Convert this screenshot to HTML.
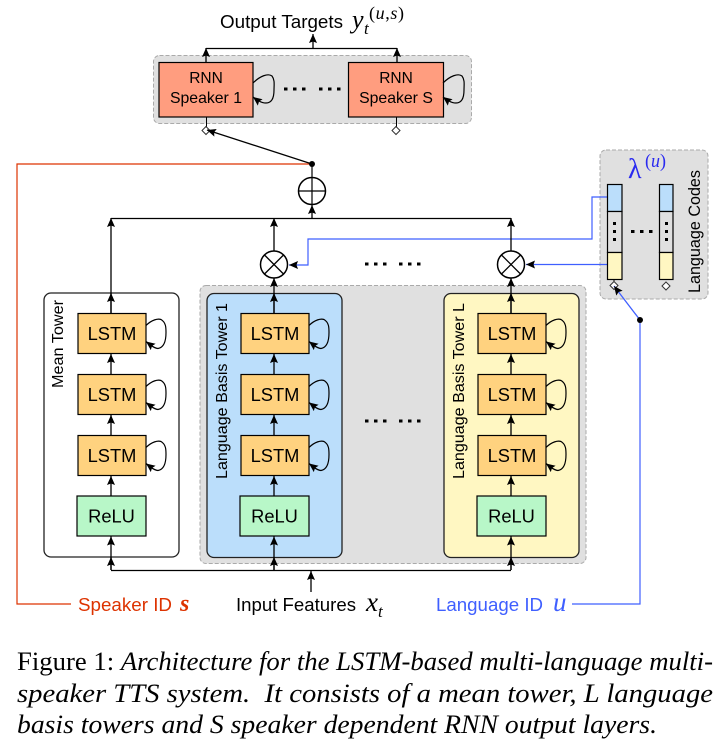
<!DOCTYPE html>
<html><head><meta charset="utf-8"><style>
html,body{margin:0;padding:0;background:#fff}
svg{display:block}
text{font-family:"Liberation Sans",sans-serif;fill:#000}
.s{font-family:"Liberation Serif",serif}
.i{font-family:"Liberation Serif",serif;font-style:italic}
.c{font-family:"Liberation Serif",serif;font-size:26px;white-space:pre}
</style></head><body>
<svg width="727" height="753" viewBox="0 0 727 753" xmlns="http://www.w3.org/2000/svg">
<defs>
<marker id="a" markerUnits="userSpaceOnUse" markerWidth="12" markerHeight="12" refX="9" refY="6" orient="auto"><path d="M0 2 L9 6 L0 10 L1.500 6Z" fill="#000"/></marker>
<g id="lstm"><rect x="0" y="0" width="68" height="40" fill="#ffd27f" stroke="#000" stroke-width="1.200"/>
<path d="M68 12 C74 6,80 5,83 6 C88 9,88 14,88 19 C88 28,86 34,80 35 C76 35,72 31,68 28" fill="none" stroke="#000" stroke-width="1.200" marker-end="url(#a)"/>
<text x="34" y="26.500" font-size="18.300" text-anchor="middle">LSTM</text></g>
<g id="relu"><rect x="0" y="0" width="69" height="40" fill="#b8f7c8" stroke="#000" stroke-width="1.200"/>
<text x="34.500" y="26.500" font-size="18.300" text-anchor="middle">ReLU</text></g>
<g id="stack">
<use href="#relu" x="-34" y="496"/>
<use href="#lstm" x="-33" y="435.500"/><use href="#lstm" x="-33" y="374.500"/><use href="#lstm" x="-33" y="313.500"/>
<g stroke="#000" stroke-width="1.300">
<line x1="0" y1="496" x2="0" y2="476" marker-end="url(#a)"/>
<line x1="0" y1="435" x2="0" y2="415" marker-end="url(#a)"/>
<line x1="0" y1="374" x2="0" y2="354" marker-end="url(#a)"/>
<line x1="0" y1="570" x2="0" y2="536.500" marker-end="url(#a)"/>
<line x1="0" y1="570" x2="0" y2="557" marker-end="url(#a)"/>
</g></g>
<g id="dots"><rect x="0" y="-1.500" width="3.500" height="3" fill="#000"/><rect x="9" y="-1.500" width="3.500" height="3" fill="#000"/><rect x="18" y="-1.500" width="3.500" height="3" fill="#000"/></g>
<g id="times"><circle r="13.500" fill="#fff" stroke="#000" stroke-width="1.500"/><path d="M-9.500 -9.500 L9.500 9.500 M9.500 -9.500 L-9.500 9.500" stroke="#000" stroke-width="1.300"/></g>
</defs>

<!-- panels -->
<rect x="153.500" y="55.500" width="318" height="68" rx="6" fill="#e0e0e0" stroke="#aaa" stroke-dasharray="4 2"/>
<rect x="600" y="150" width="108" height="149" rx="6" fill="#e0e0e0" stroke="#aaa" stroke-dasharray="4 2"/>
<rect x="200" y="285.500" width="386" height="278" rx="6" fill="#e0e0e0" stroke="#aaa" stroke-dasharray="4 2"/>
<rect x="44" y="293" width="135" height="264" rx="7" fill="#fff" stroke="#222" stroke-width="1.300"/>
<rect x="207" y="293.500" width="135" height="264" rx="7" fill="#bbdefb" stroke="#222" stroke-width="1.300"/>
<rect x="444" y="293.500" width="135" height="264" rx="7" fill="#fff7c2" stroke="#222" stroke-width="1.300"/>

<!-- coloured wires -->
<path d="M312 164 H17 V604 H71" fill="none" stroke="#dd3300" stroke-width="1.200"/>
<path d="M572 604 H640 V320" fill="none" stroke="#3f5fff" stroke-width="1.200"/>
<path d="M607 197 H592 V239 H308 V265 H289" fill="none" stroke="#3f5fff" stroke-width="1.200" marker-end="url(#a)"/>
<path d="M607 264.500 H526" fill="none" stroke="#3f5fff" stroke-width="1.200" marker-end="url(#a)"/>

<!-- top part -->
<rect x="159" y="62.500" width="94" height="54.500" fill="#ff9d7f" stroke="#000" stroke-width="1.200"/>
<rect x="348.500" y="62.500" width="95" height="54.500" fill="#ff9d7f" stroke="#000" stroke-width="1.200"/>
<text x="206" y="83" font-size="15.500" text-anchor="middle">RNN</text>
<text x="206" y="103" font-size="15.800" text-anchor="middle">Speaker 1</text>
<text x="396" y="83" font-size="15.500" text-anchor="middle">RNN</text>
<text x="396" y="103" font-size="15.800" text-anchor="middle">Speaker S</text>
<path d="M253 83 C260 76,268 73,272 76 C275 80,274 85,274 90 C274 98,272 103,266 103 C261 103,257 100,253 97" fill="none" stroke="#000" stroke-width="1.200" marker-end="url(#a)"/>
<path d="M443 83 C450 76,458 73,462 76 C465 80,464 85,464 90 C464 98,462 103,456 103 C451 103,447 100,443 97" fill="none" stroke="#000" stroke-width="1.200" marker-end="url(#a)"/>
<use href="#dots" x="284" y="89"/><use href="#dots" x="319" y="89"/>
<line x1="206" y1="62" x2="206" y2="48" stroke="#000" stroke-width="1.300" marker-end="url(#a)"/>
<line x1="397" y1="62" x2="397" y2="48" stroke="#000" stroke-width="1.300" marker-end="url(#a)"/>
<line x1="206" y1="48.500" x2="397" y2="48.500" stroke="#000" stroke-width="1.200"/>
<line x1="313" y1="48" x2="313" y2="34" stroke="#000" stroke-width="1.300" marker-end="url(#a)"/>
<path d="M206.500 117 V127 M396.500 117 V127" stroke="#000"/>
<path d="M206 126.500 L210 130.500 L206 134.500 L202 130.500Z M396 126.500 L400 130.500 L396 134.500 L392 130.500Z" fill="#fff" stroke="#333"/>
<line x1="312" y1="164" x2="207" y2="130" stroke="#000" stroke-width="1.300" marker-end="url(#a)"/>
<circle cx="312" cy="164" r="3" fill="#000"/>
<line x1="312" y1="164" x2="312" y2="177" stroke="#000" stroke-width="1.200"/>
<circle cx="312" cy="191" r="13.500" fill="#fff" stroke="#000" stroke-width="1.500"/>
<path d="M298.500 191 H325.500 M312 177.500 V204.500" stroke="#000" stroke-width="1.200"/>

<!-- bus -->
<line x1="111" y1="218.500" x2="511" y2="218.500" stroke="#000" stroke-width="1.200"/>
<line x1="312" y1="218" x2="312" y2="205" stroke="#000" stroke-width="1.300" marker-end="url(#a)"/>
<line x1="111" y1="313" x2="111" y2="218" stroke="#000" stroke-width="1.300" marker-end="url(#a)"/>
<line x1="274" y1="251" x2="274" y2="218" stroke="#000" stroke-width="1.300" marker-end="url(#a)"/>
<line x1="511" y1="251" x2="511" y2="218" stroke="#000" stroke-width="1.300" marker-end="url(#a)"/>
<line x1="111" y1="313" x2="111" y2="293" stroke="#000" stroke-width="1.300" marker-end="url(#a)"/>
<line x1="274" y1="313" x2="274" y2="278" stroke="#000" stroke-width="1.300" marker-end="url(#a)"/>
<line x1="511" y1="313" x2="511" y2="278" stroke="#000" stroke-width="1.300" marker-end="url(#a)"/>
<line x1="274" y1="313" x2="274" y2="293" stroke="#000" stroke-width="1.300" marker-end="url(#a)"/>
<line x1="511" y1="313" x2="511" y2="293" stroke="#000" stroke-width="1.300" marker-end="url(#a)"/>
<use href="#times" x="274" y="264.500"/><use href="#times" x="511" y="264.500"/>

<!-- towers -->
<use href="#stack" x="111"/><use href="#stack" x="274"/><use href="#stack" x="511"/>
<line x1="111" y1="570.500" x2="511" y2="570.500" stroke="#000" stroke-width="1.200"/>
<line x1="311" y1="592" x2="311" y2="571" stroke="#000" stroke-width="1.300" marker-end="url(#a)"/>
<use href="#dots" x="365" y="264"/><use href="#dots" x="399" y="264"/>
<use href="#dots" x="365" y="421"/><use href="#dots" x="399" y="421"/>

<text transform="translate(63,388) rotate(-90)" font-size="16" textLength="88" lengthAdjust="spacingAndGlyphs">Mean Tower</text>
<text transform="translate(227,479) rotate(-90)" font-size="16" textLength="176" lengthAdjust="spacingAndGlyphs">Language Basis Tower 1</text>
<text transform="translate(464,479) rotate(-90)" font-size="16" textLength="176" lengthAdjust="spacingAndGlyphs">Language Basis Tower L</text>
<text transform="translate(700,293) rotate(-90)" font-size="17" textLength="123" lengthAdjust="spacingAndGlyphs">Language Codes</text>

<!-- language vectors -->
<g stroke="#000" stroke-width="1.200">
<rect x="607.500" y="184.500" width="14.500" height="27" fill="#bbdefb"/>
<rect x="607.500" y="211.500" width="14.500" height="41" fill="#e0e0e0"/>
<rect x="607.500" y="252.500" width="14.500" height="27" fill="#fff7c2"/>
<rect x="659.500" y="184.500" width="13.500" height="27" fill="#bbdefb"/>
<rect x="659.500" y="211.500" width="13.500" height="41" fill="#e0e0e0"/>
<rect x="659.500" y="252.500" width="13.500" height="27" fill="#fff7c2"/>
</g>
<g fill="#000"><rect x="613" y="222" width="3" height="3"/><rect x="613" y="230" width="3" height="3"/><rect x="613" y="238" width="3" height="3"/>
<rect x="665" y="222" width="3" height="3"/><rect x="665" y="230" width="3" height="3"/><rect x="665" y="238" width="3" height="3"/>
<rect x="631" y="230" width="3.500" height="3"/><rect x="640" y="230" width="3.500" height="3"/><rect x="649" y="230" width="3.500" height="3"/></g>
<path d="M614 279.500 V282" stroke="#000"/>
<path d="M614 281.500 L618 285.500 L614 289.500 L610 285.500Z M666 282 L670 286 L666 290 L662 286Z" fill="#fff" stroke="#333"/>
<line x1="640" y1="320" x2="614" y2="286" stroke="#3f5fff" stroke-width="1.300" marker-end="url(#a)"/>
<circle cx="640" cy="320" r="3" fill="#000"/>
<text class="s" x="628" y="178" font-size="28" style="fill:#2a2af0">λ</text>
<text class="s" x="645" y="167" font-size="19" textLength="21" lengthAdjust="spacingAndGlyphs" style="fill:#2a2af0">(<tspan class="i">u</tspan>)</text>

<!-- labels -->
<text x="220" y="28" font-size="18.400" textLength="123" lengthAdjust="spacingAndGlyphs">Output Targets</text>
<text class="i" x="352" y="28" font-size="26">y</text>
<text class="i" x="364" y="34" font-size="17">t</text>
<text class="s" x="369" y="19" font-size="18" textLength="35" lengthAdjust="spacing">(<tspan class="i">u</tspan>,<tspan class="i">s</tspan>)</text>
<text x="78" y="611" font-size="18.500" textLength="94" lengthAdjust="spacingAndGlyphs" style="fill:#dd3300">Speaker ID</text>
<text class="i" x="180" y="611" font-size="24" style="fill:#dd3300;font-weight:bold">s</text>
<text x="236" y="611" font-size="18.500" textLength="120" lengthAdjust="spacingAndGlyphs">Input Features</text>
<text class="i" x="366" y="611" font-size="27">x</text>
<text class="i" x="378" y="617" font-size="17">t</text>
<text x="436" y="611" font-size="18.500" textLength="107" lengthAdjust="spacingAndGlyphs" style="fill:#3f5fff">Language ID</text>
<text class="i" x="553" y="611" font-size="27" style="fill:#3f5fff">u</text>

<!-- caption -->
<text class="c" x="17" y="670" textLength="696" lengthAdjust="spacingAndGlyphs">Figure 1: <tspan font-style="italic">Architecture for the LSTM-based multi-language multi-</tspan></text>
<text class="c" x="17" y="702" textLength="696" lengthAdjust="spacingAndGlyphs" font-style="italic">speaker TTS system.  It consists of a mean tower, L language</text>
<text class="c" x="17" y="733" textLength="640" lengthAdjust="spacingAndGlyphs" font-style="italic">basis towers and S speaker dependent RNN output layers.</text>
</svg>
</body></html>
